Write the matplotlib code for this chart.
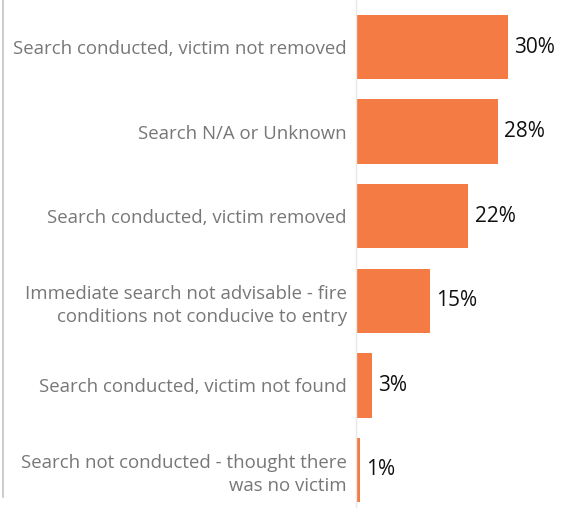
import matplotlib
matplotlib.use("Agg")
import matplotlib.pyplot as plt
from matplotlib.lines import Line2D

categories = [
    "Search conducted, victim not removed",
    "Search N/A or Unknown",
    "Search conducted, victim removed",
    "Immediate search not advisable - fire\nconditions not conducive to entry",
    "Search conducted, victim not found",
    "Search not conducted - thought there\nwas no victim",
]
values = [30.0, 28.0, 22.2, 14.6, 3.2, 0.85]
labels = ["30%", "28%", "22%", "15%", "3%", "1%"]

W, H = 571, 508
fig = plt.figure(figsize=(W / 100, H / 100), dpi=100)
ax = fig.add_axes([356 / W, 0, 1 - 356 / W, 1])

color = "#F47B43"
y = list(range(len(categories)))
ax.barh(y, values, height=0.762, color=color)
ax.set_ylim(5.45, -0.556)
ax.set_xlim(0, 215 / 5.06)

font = "Open Sans"
for yi, v, lab in zip(y, values, labels):
    ax.annotate(lab, (v, yi), xytext=(4.5, 0), textcoords="offset points",
                va="center", ha="left", fontsize=15, color="#111111", family=font)

ax.set_yticks(y)
ax.set_yticklabels(categories, fontsize=13.4, color="#777777", family=font,
                   linespacing=1.38)
ax.tick_params(axis="y", length=0, pad=6.5)
ax.set_xticks([])
for s in ["top", "right", "bottom"]:
    ax.spines[s].set_visible(False)
ax.spines["left"].set_color("#e8e8e8")
ax.spines["left"].set_linewidth(1)

fig.add_artist(Line2D([2.5 / W, 2.5 / W], [1, 1 - 497 / H], transform=fig.transFigure,
                      color="#c4c4c4", linewidth=1.2))

fig.savefig("out.png", dpi=100)
